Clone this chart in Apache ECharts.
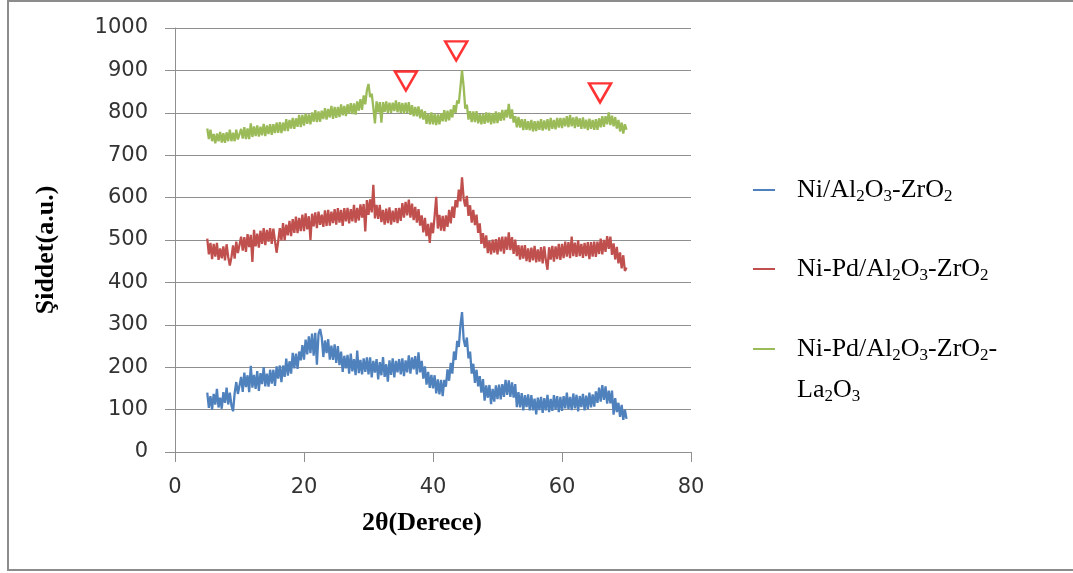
<!DOCTYPE html>
<html>
<head>
<meta charset="utf-8">
<script src="https://cdn.jsdelivr.net/npm/echarts@6/dist/echarts.min.js"></script>
<style>
  html, body { margin: 0; padding: 0; background: #fff; }
  #main { width: 1073px; height: 573px; }
</style>
</head>
<body>
<div id="main"></div>
<script>
// scan from 5 to 70 degrees, 0.25 degree step
var scanStart = 5;
var scanStep = 0.25;

var seriesNames = ['Ni/Al2O3-ZrO2', 'Ni-Pd/Al2O3-ZrO2', 'Ni-Pd/Al2O3-ZrO2-La2O3'];
var legendLabels = [
    'Ni/Al{s|2}O{s|3}-ZrO{s|2}',
    'Ni-Pd/Al{s|2}O{s|3}-ZrO{s|2}',
    'Ni-Pd/Al{s|2}O{s|3}-ZrO{s|2}-'
];
// second line of the last legend entry
var legendWrap = 'La{s|2}O{s|3}';
var colors = ['#4F81BD', '#C0504D', '#9BBB59'];

var niAlZr = [
    140,104,132,100,137,112,149,105,128,102,141,116,152,112,140,110,96,139,165,137,
    141,177,142,187,153,181,141,203,152,182,149,191,144,186,160,200,155,185,154,194,
    161,194,156,202,173,204,165,204,177,220,180,214,185,234,197,232,196,237,216,252,
    218,265,230,273,233,279,227,281,206,278,290,270,224,263,233,266,218,251,217,254,
    210,250,205,237,189,227,197,229,185,232,190,219,181,239,186,217,183,221,189,223,
    183,223,176,215,187,219,171,212,181,224,177,207,166,216,182,221,176,215,188,219,
    183,221,179,216,188,228,185,223,195,226,183,235,188,215,173,202,159,189,151,182,
    150,181,138,171,136,170,132,170,154,195,168,210,185,237,217,262,248,298,330,266,
    248,270,221,237,185,208,163,194,155,179,140,172,121,157,128,158,113,149,119,157,
    125,159,124,160,130,170,135,169,130,164,128,160,106,141,105,139,98,134,106,136,
    98,134,98,126,89,128,99,130,92,127,98,135,94,125,97,134,100,132,94,130,
    97,132,103,140,101,130,99,138,103,135,96,132,106,137,98,133,101,140,105,136,
    107,143,116,152,119,158,123,155,114,145,115,145,88,127,94,116,83,111,76,100,
    78
];

var niPdAlZr = [
    503,466,493,455,491,461,493,453,480,457,485,452,490,460,440,459,487,456,496,469,
    467,508,475,507,472,514,483,512,448,524,485,515,482,522,491,528,488,524,496,528,
    491,527,498,470,497,528,499,540,499,536,511,545,509,549,517,555,516,552,521,560,
    521,563,525,556,500,562,532,565,528,567,536,560,531,570,533,571,534,567,540,573,
    536,575,541,571,533,575,544,576,539,573,544,583,541,576,546,584,553,585,520,594,
    559,596,565,630,551,583,550,583,542,571,536,574,540,577,536,569,542,575,540,576,
    545,587,553,590,558,595,553,586,547,578,541,573,534,558,518,552,509,538,493,541,
    516,556,602,527,559,522,557,521,558,531,571,539,579,552,594,577,619,591,648,598,
    579,604,557,582,541,571,535,560,517,539,491,516,481,511,469,498,466,501,470,502,
    466,506,473,508,468,508,477,518,476,507,467,501,462,488,454,487,456,488,450,480,
    448,482,452,486,447,478,449,483,445,485,452,430,483,454,486,449,485,455,491,453,
    491,457,496,461,495,457,508,462,494,460,499,462,491,458,493,462,495,455,495,461,
    496,460,496,467,503,466,500,472,509,479,508,465,492,454,484,445,471,433,464,427,
    435
];

var niPdAlZrLa = [
    763,738,760,733,750,728,751,733,755,730,752,729,754,733,760,733,753,733,760,737,
    737,762,739,766,738,763,738,775,743,768,745,770,744,767,747,774,745,770,750,773,
    748,773,752,777,753,778,752,777,757,785,757,783,763,788,762,787,767,795,766,795,
    770,798,774,796,773,801,779,806,778,803,779,805,785,811,784,809,789,816,786,814,
    788,814,790,820,794,816,792,820,798,823,797,822,796,827,805,832,807,841,820,853,
    868,837,845,812,775,827,801,825,777,825,802,827,800,824,800,824,804,829,801,825,
    800,823,798,824,800,825,795,818,792,814,792,815,787,808,784,804,774,798,773,801,
    773,798,771,796,773,799,780,806,779,805,782,808,789,818,800,829,822,860,900,862,
    810,819,784,804,778,803,778,804,775,797,773,798,774,801,777,800,773,799,775,803,
    776,801,781,807,782,807,789,821,786,808,777,792,766,790,765,785,759,785,760,780,
    759,783,756,780,757,781,760,785,758,782,761,785,758,788,762,783,761,788,765,788,
    764,788,768,792,766,795,768,789,764,791,767,787,762,789,763,784,759,786,762,783,
    760,785,760,787,766,792,767,792,773,801,771,793,768,790,763,783,756,777,751,773,
    760
];

// peak markers (2theta, intensity)
var peakMarks = [[35.8, 875], [43.6, 946], [65.9, 847]];

var allSeries = [niAlZr, niPdAlZr, niPdAlZrLa];

function toPairs(values) {
    return values.map(function (v, i) {
        return [scanStart + i * scanStep, v];
    });
}

var chart = echarts.init(document.getElementById('main'), null, { renderer: 'canvas' });

var subRich = {
    s: { fontFamily: 'Liberation Serif', fontSize: 17, color: '#000', lineHeight: 17, verticalAlign: 'bottom' }
};

var legendTops = [175, 254, 334];
var legends = seriesNames.map(function (name, i) {
    return {
        orient: 'vertical',
        left: 753,
        top: legendTops[i],
        padding: 0,
        data: [name],
        icon: 'rect',
        itemWidth: 22,
        itemHeight: 2,
        itemGap: 0,
        selectedMode: false,
        formatter: function () { return legendLabels[i]; },
        textStyle: {
            fontFamily: 'Liberation Serif',
            fontSize: 26,
            color: '#000',
            lineHeight: 30,
            padding: [0, 0, 0, 17],
            rich: subRich
        }
    };
});

var series = allSeries.map(function (values, i) {
    return {
        name: seriesNames[i],
        type: 'line',
        data: toPairs(values),
        showSymbol: false,
        symbol: 'none',
        sampling: false,
        lineStyle: { color: colors[i], width: 2.3 },
        itemStyle: { color: colors[i] },
        z: 3
    };
});

series.push({
    name: 'peaks',
    type: 'scatter',
    data: peakMarks,
    symbol: 'triangle',
    symbolRotate: 180,
    symbolSize: [22, 19],
    itemStyle: { color: 'rgba(255,255,255,0)', borderColor: '#FF0000', borderWidth: 2.5 },
    z: 5
});

chart.setOption({
    animation: false,
    backgroundColor: '#fff',
    grid: { left: 175, top: 28, right: 382, bottom: 121 },
    legend: legends,
    xAxis: {
        type: 'value',
        min: 0,
        max: 80,
        interval: 20,
        name: '2θ(Derece)',
        nameLocation: 'middle',
        nameGap: 58,
        nameTextStyle: {
            fontFamily: 'Liberation Serif', fontWeight: 'bold', fontSize: 26, color: '#000',
            padding: [0, 22, 0, 0]
        },
        axisLine: { show: true, lineStyle: { color: '#8f8f8f', width: 1 } },
        axisTick: { show: true, length: 10, lineStyle: { color: '#8f8f8f' } },
        axisLabel: { margin: 25, fontFamily: 'DejaVu Sans', fontSize: 21, color: '#333' },
        splitLine: { show: false }
    },
    yAxis: {
        type: 'value',
        min: 0,
        max: 1000,
        interval: 100,
        name: 'Şiddet(a.u.)',
        nameLocation: 'middle',
        nameGap: 116,
        nameTextStyle: {
            fontFamily: 'Liberation Serif', fontWeight: 'bold', fontSize: 26, color: '#000',
            padding: [0, 20, 0, 0]
        },
        axisLine: { show: true, lineStyle: { color: '#8f8f8f', width: 1 } },
        axisTick: { show: true, length: 10, lineStyle: { color: '#8f8f8f' } },
        axisLabel: {
            margin: 27, fontFamily: 'DejaVu Sans', fontSize: 21, color: '#333',
            formatter: function (v) { return String(v); }
        },
        splitLine: { show: true, lineStyle: { color: '#8f8f8f', width: 1 } }
    },
    graphic: [{
        type: 'rect',
        shape: { x: 8, y: 1, width: 1080, height: 569 },
        style: { fill: 'none', stroke: '#8c8c8c', lineWidth: 2 },
        silent: true
    }, {
        type: 'text',
        x: 797,
        y: 390,
        style: {
            text: legendWrap,
            fontFamily: 'Liberation Serif',
            fontSize: 26,
            lineHeight: 30,
            fill: '#000',
            verticalAlign: 'middle',
            rich: subRich
        },
        silent: true
    }],
    series: series
});
</script>
</body>
</html>
